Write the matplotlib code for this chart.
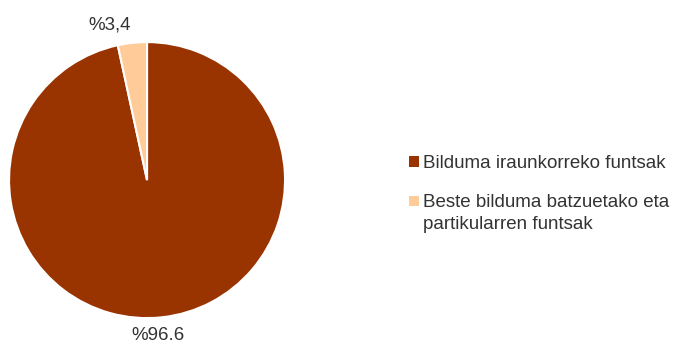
import matplotlib
matplotlib.use("Agg")
import matplotlib.pyplot as plt
from matplotlib.legend_handler import HandlerPatch
from matplotlib.patches import Rectangle

labels = ["Bilduma iraunkorreko funtsak",
          "Beste bilduma batzuetako eta\npartikularren funtsak"]
values = [96.6, 3.4]
value_labels = ["%96.6", "%3,4"]
colors = ["#993300", "#FFCC99"]

plt.rcParams["font.family"] = ["Liberation Sans", "DejaVu Sans"]


class TopSquare(HandlerPatch):
    """Square handle lifted up to the first line of a two-line label."""

    def __init__(self, lift=0, **kw):
        super().__init__(**kw)
        self.lift = lift

    def create_artists(self, legend, orig_handle, xdescent, ydescent,
                       width, height, fontsize, trans):
        p = Rectangle((-xdescent, -ydescent + self.lift), width, height,
                      facecolor=orig_handle.get_facecolor(), edgecolor="none",
                      transform=trans)
        return [p]


fig = plt.figure(figsize=(6.79, 3.45), dpi=100)
ax = fig.add_axes([0.0133, 0.078, 0.4065, 0.8])

wedges, texts = ax.pie(
    values,
    colors=colors,
    labels=value_labels,
    startangle=90,
    counterclock=False,
    labeldistance=1.13,
    wedgeprops={"edgecolor": "white", "linewidth": 1.5},
    textprops={"fontsize": 13.5, "color": "#333333"},
)
for t in texts:
    t.set_ha("center")
    t.set_va("center")
texts[1].set_ha("right")
x0, y0 = texts[0].get_position()
texts[0].set_position((x0 - 0.04, y0))
ax.set_xlim(-1, 1)
ax.set_ylim(-1, 1)
ax.set_aspect("equal")

leg = fig.legend(
    wedges,
    labels,
    loc="center left",
    bbox_to_anchor=(0.578, 0.438),
    frameon=False,
    fontsize=13.5,
    handlelength=0.52,
    handleheight=0.52,
    handletextpad=0.2,
    labelspacing=1.2,
    labelcolor="#333333",
    handler_map={wedges[0]: TopSquare(), wedges[1]: TopSquare(lift=9)},
)
for t in leg.get_texts():
    t.set_linespacing(1.35)

fig.savefig("out.png", dpi=100)
